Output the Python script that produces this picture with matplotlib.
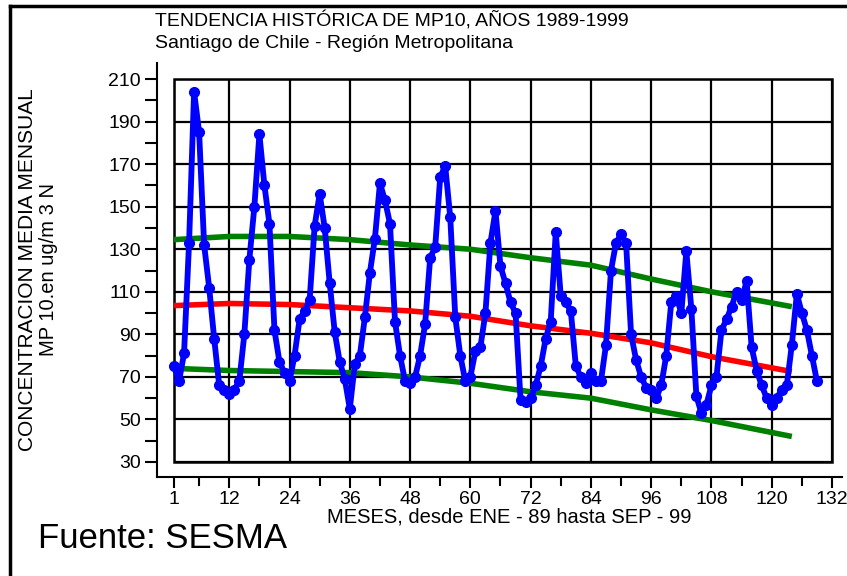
import matplotlib
matplotlib.use("Agg")
import matplotlib.pyplot as plt
from matplotlib.patches import Rectangle
from matplotlib.lines import Line2D

plt.rcParams['font.family'] = ['Liberation Sans', 'DejaVu Sans']

# ---- data ----
months = list(range(1, 130))
mp10 = [75, 68, 81, 133, 204, 185, 132, 112, 88, 66, 64, 62,
        64, 68, 90, 125, 150, 184, 160, 142, 92, 77, 72, 68,
        80, 97, 101, 106, 141, 156, 140, 114, 91, 77, 69, 55,
        76, 80, 98, 119, 135, 161, 153, 142, 96, 80, 68, 67,
        70, 80, 95, 126, 131, 164, 169, 145, 98, 80, 68, 70,
        82, 84, 100, 133, 148, 122, 114, 105, 100, 59, 58, 60,
        66, 75, 88, 96, 138, 108, 105, 101, 75, 70, 67, 72,
        68, 68, 85, 120, 133, 137, 133, 90, 78, 70, 65, 64,
        60, 66, 80, 105, 108, 100, 129, 102, 61, 53, 57, 66,
        70, 92, 97, 103, 110, 106, 115, 84, 73, 66, 60, 57,
        60, 64, 66, 85, 109, 100, 92, 80, 68]

trend_months = [1, 12, 24, 36, 48, 60, 72, 84, 96, 108, 124]
trend_mid = [103.5, 104.5, 104, 102.5, 101, 98.5, 94, 90.5, 86, 79.5, 72.5]
trend_upper = [134.5, 136, 136, 134.5, 132, 130, 126, 122.5, 116, 110, 103]
trend_lower = [74, 73, 72.5, 72, 70, 67, 63, 60, 54.5, 49.5, 42]

x_ticks = [1, 12, 24, 36, 48, 60, 72, 84, 96, 108, 120, 132]
x_minor = [6, 18, 30, 42, 54, 66, 78, 90, 102, 114, 126]
y_ticks = [30, 50, 70, 90, 110, 130, 150, 170, 190, 210]
y_minor = [40, 60, 80, 100, 120, 140, 160, 180, 200]

title1 = "TENDENCIA HISTÓRICA DE MP10, AÑOS 1989-1999"
title2 = "Santiago de Chile - Región Metropolitana"
ylabel1 = "CONCENTRACION MEDIA MENSUAL"
ylabel2 = "MP 10.en ug/m 3 N"
xlabel = "MESES, desde ENE - 89 hasta SEP - 99"
source = "Fuente: SESMA"

# ---- figure ----
W, H = 847, 576
fig = plt.figure(figsize=(W / 100, H / 100), dpi=100)
fig.patch.set_facecolor('white')

L, R, T, B = 174, 832, 79, 462
ax = fig.add_axes([L / W, 1 - B / H, (R - L) / W, (B - T) / H])
ax.set_xlim(1, 132)
ax.set_ylim(30, 210)

ax.set_xticks(x_ticks)
ax.set_xticks(x_minor, minor=True)
ax.set_yticks(y_ticks)
ax.set_yticks(y_minor, minor=True)
ax.set_xticklabels([str(v) for v in x_ticks])
ax.set_yticklabels([str(v) for v in y_ticks])

ax.set_axisbelow(True)
ax.grid(True, which='major', color='black', linewidth=1.6)

for s in ['top', 'right']:
    ax.spines[s].set_visible(False)
ax.spines['left'].set_position(('outward', 17 * 0.72))
ax.spines['bottom'].set_position(('outward', 15 * 0.72))
ax.spines['left'].set_bounds(23, 217.5)
ax.spines['bottom'].set_bounds(-2.4, 134)
ax.spines['left'].set_linewidth(1.5)
ax.spines['bottom'].set_linewidth(1.5)

ax.tick_params(axis='both', which='both', direction='out', color='black',
               width=1.5, labelsize=14)
ax.tick_params(axis='y', which='both', length=12 * 0.72, pad=3)
ax.tick_params(axis='x', which='major', length=11 * 0.72, pad=2)
ax.tick_params(axis='x', which='minor', length=9 * 0.72)

ax.add_patch(Rectangle((0, 0), 1, 1, transform=ax.transAxes, fill=False,
                       edgecolor='black', linewidth=1.8, clip_on=False, zorder=1))

ax.plot(trend_months, trend_upper, color='#008000', linewidth=4, zorder=3,
        solid_capstyle='butt')
ax.plot(trend_months, trend_lower, color='#008000', linewidth=4, zorder=3,
        solid_capstyle='butt')
ax.plot(trend_months, trend_mid, color='#FF0000', linewidth=4, zorder=3,
        solid_capstyle='butt')
ax.plot(months, mp10, color='#0000FF', linewidth=4.2, marker='o',
        markersize=7, zorder=4, clip_on=False)

# ---- texts ----
fig.text(155 / W, 1 - 21 / H, title1, fontsize=14, ha='left', va='center')
fig.text(155 / W, 1 - 43 / H, title2, fontsize=14, ha='left', va='center')
fig.text(28 / W, 1 - 270 / H, ylabel1, fontsize=15, rotation=90,
         ha='center', va='center')
fig.text(48 / W, 1 - 270 / H, ylabel2, fontsize=14.5, rotation=90,
         ha='center', va='center')
fig.text(509 / W, 1 - 517 / H, xlabel, fontsize=14.5, ha='center', va='center')
fig.text(38 / W, 1 - 538 / H, source, fontsize=25, ha='left', va='center')

# image border (left and top)
fig.add_artist(Line2D([10 / W, 10 / W], [0, 1 - 6 / H], transform=fig.transFigure,
                      color='black', linewidth=2.5))
fig.add_artist(Line2D([10 / W, 1], [1 - 6 / H, 1 - 6 / H], transform=fig.transFigure,
                      color='black', linewidth=2.5))

fig.savefig('out.png', dpi=100, facecolor='white')
